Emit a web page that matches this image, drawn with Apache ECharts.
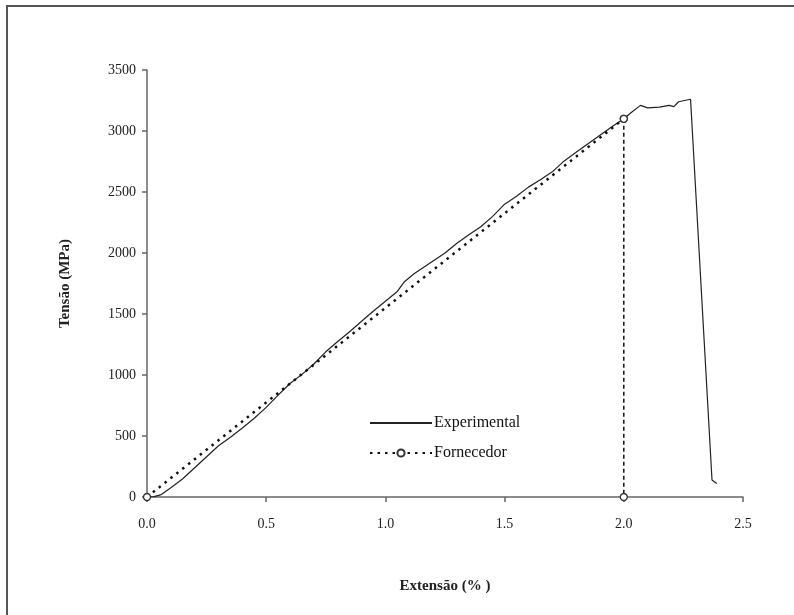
<!DOCTYPE html>
<html>
<head>
<meta charset="utf-8">
<script src="https://cdn.jsdelivr.net/npm/echarts@6/dist/echarts.min.js"></script>
<style>
html, body { margin: 0; padding: 0; background: #fff; }
#main { width: 794px; height: 615px; }
</style>
</head>
<body>
<div id="main"></div>
<script>
// dados
var xTicks = [0, 0.5, 1.0, 1.5, 2.0, 2.5];
var yTicks = [0, 500, 1000, 1500, 2000, 2500, 3000, 3500];

var experimental = [
	[0, 0], [0.03, 3], [0.06, 20], [0.1, 75], [0.15, 150], [0.2, 240], [0.25, 330],
	[0.3, 420], [0.35, 490], [0.4, 565], [0.45, 645], [0.5, 735], [0.55, 835],
	[0.6, 930], [0.65, 1005], [0.7, 1090], [0.75, 1190], [0.8, 1275], [0.85, 1355],
	[0.9, 1440], [0.95, 1525], [1.0, 1605], [1.05, 1685], [1.08, 1765], [1.12, 1830],
	[1.2, 1935], [1.25, 2000], [1.3, 2080], [1.35, 2150], [1.4, 2215], [1.45, 2300],
	[1.5, 2400], [1.55, 2465], [1.6, 2540], [1.65, 2600], [1.7, 2665], [1.75, 2755],
	[1.8, 2825], [1.85, 2895], [1.9, 2965], [1.95, 3035], [2.0, 3100], [2.03, 3150],
	[2.07, 3210], [2.1, 3190], [2.15, 3195], [2.19, 3210], [2.21, 3200], [2.23, 3240],
	[2.28, 3260], [2.37, 140], [2.39, 110]
];
var fornecedor = [[0, 0], [2.0, 3100]];
var fornecedorVertical = [[2.0, 3100], [2.0, 0]];

var fonte = 'Liberation Serif';
var myChart = echarts.init(document.getElementById('main'));

var marcador = { color: '#fff', borderColor: '#333', borderWidth: 1.3 };

var option = {
	backgroundColor: '#fff',
	animation: false,
	grid: { left: 147, right: 51, top: 70, bottom: 118 },
	graphic: [
		{ type: 'line', shape: { x1: 6, y1: 6, x2: 794, y2: 6 }, style: { stroke: '#555', lineWidth: 2 } },
		{ type: 'line', shape: { x1: 7, y1: 5, x2: 7, y2: 615 }, style: { stroke: '#555', lineWidth: 2 } }
	],
	legend: {
		orient: 'vertical',
		left: 364,
		top: 410,
		itemWidth: 62,
		itemHeight: 9,
		itemGap: 14,
		data: [
			{ name: 'Experimental', itemStyle: { opacity: 0 } },
			{ name: 'Fornecedor' }
		],
		textStyle: { fontFamily: fonte, fontSize: 16, color: '#111', padding: [0, 0, 0, -3] }
	},
	xAxis: {
		type: 'value',
		min: 0, max: 2.5, interval: 0.5,
		name: 'Extensão (% )',
		nameLocation: 'middle',
		nameGap: 82,
		nameTextStyle: { fontFamily: fonte, fontSize: 15, fontWeight: 'bold', color: '#222' },
		axisLine: { lineStyle: { color: '#666', width: 1.5 } },
		axisTick: { show: true, length: 5, lineStyle: { color: '#666', width: 1.5 } },
		axisLabel: {
			fontFamily: fonte, fontSize: 14, color: '#222', margin: 20,
			formatter: function (v) { return v.toFixed(1); }
		},
		splitLine: { show: false }
	},
	yAxis: {
		type: 'value',
		min: 0, max: 3500, interval: 500,
		name: 'Tensão (MPa)',
		nameLocation: 'middle',
		nameGap: 74,
		nameTextStyle: { fontFamily: fonte, fontSize: 15, fontWeight: 'bold', color: '#222' },
		axisLine: { show: true, lineStyle: { color: '#666', width: 1.5 } },
		axisTick: { show: true, length: 5, lineStyle: { color: '#666', width: 1.5 } },
		axisLabel: {
			fontFamily: fonte, fontSize: 14, color: '#222', margin: 11,
			formatter: function (v) { return String(v); }
		},
		splitLine: { show: false }
	},
	series: [
		{
			name: 'Experimental',
			type: 'line',
			data: experimental,
			symbol: 'none',
			lineStyle: { color: '#222', width: 1.2 },
			itemStyle: { color: '#222' },
			z: 3
		},
		{
			name: 'Fornecedor',
			type: 'line',
			data: fornecedor,
			symbol: 'circle',
			symbolSize: 7,
			lineStyle: { color: '#111', width: 2.5, type: [2.5, 5] },
			itemStyle: marcador,
			z: 4
		},
		{
			name: 'FornecedorVertical',
			type: 'line',
			data: fornecedorVertical,
			symbol: 'circle',
			symbolSize: 7,
			lineStyle: { color: '#111', width: 1.5, type: [4, 3] },
			itemStyle: marcador,
			z: 4
		}
	]
};
myChart.setOption(option);
</script>
</body>
</html>
